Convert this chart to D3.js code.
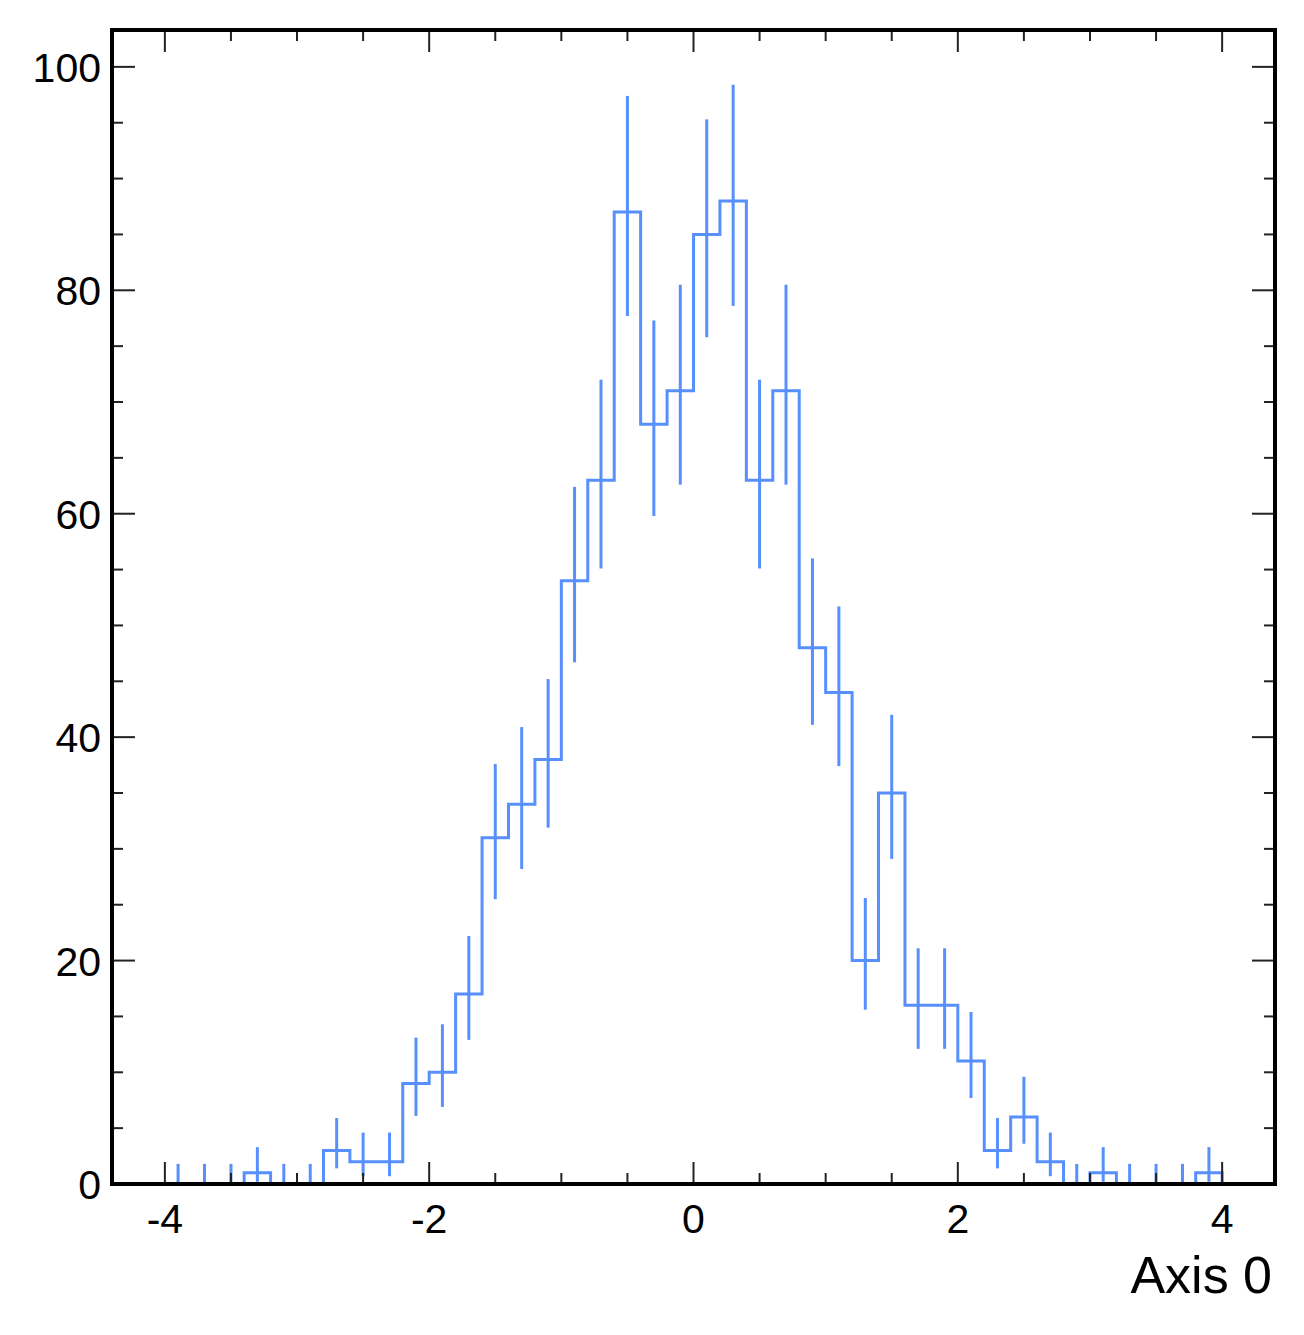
<!DOCTYPE html>
<html>
<head>
<meta charset="utf-8">
<script src="https://cdn.jsdelivr.net/npm/d3@7"></script>
<style>
  body { margin: 0; background: #fff; }
  text { font-family: "Liberation Sans", Arial, Helvetica, sans-serif; fill: #000; }
</style>
</head>
<body>
<div id="chart"></div>
<script>
// bin edges (40 bins of width 0.2)
const binEdges = [-4.0, -3.8, -3.6, -3.4, -3.2, -3.0, -2.8, -2.6, -2.4, -2.2,
  -2.0, -1.8, -1.6, -1.4, -1.2, -1.0, -0.8, -0.6, -0.4, -0.2,
  0.0, 0.2, 0.4, 0.6, 0.8, 1.0, 1.2, 1.4, 1.6, 1.8,
  2.0, 2.2, 2.4, 2.6, 2.8, 3.0, 3.2, 3.4, 3.6, 3.8, 4.0];

// entries per bin
const counts = [0, 0, 0, 1, 0, 0, 3, 2, 2, 9,
  10, 17, 31, 34, 38, 54, 63, 87, 68, 71,
  85, 88, 63, 71, 48, 44, 20, 35, 16, 16,
  11, 3, 6, 2, 0, 1, 0, 0, 0, 1];

// error bar ends (asymmetric)
const errLow = [0, 0, 0, 0.2, 0, 0, 1.4, 0.7, 0.7, 6.1,
  6.9, 12.9, 25.5, 28.2, 31.9, 46.7, 55.1, 77.7, 59.8, 62.6,
  75.8, 78.6, 55.1, 62.6, 41.1, 37.4, 15.6, 29.1, 12.1, 12.1,
  7.7, 1.4, 3.6, 0.7, 0, 0.2, 0, 0, 0, 0.2];
const errHigh = [1.8, 1.8, 1.8, 3.3, 1.8, 1.8, 5.9, 4.6, 4.6, 13.1,
  14.3, 22.2, 37.6, 40.9, 45.2, 62.4, 72.0, 97.4, 77.3, 80.5,
  95.3, 98.4, 72.0, 80.5, 56.0, 51.7, 25.6, 42.0, 21.1, 21.1,
  15.4, 5.9, 9.6, 4.6, 1.8, 3.3, 1.8, 1.8, 1.8, 3.3];

const xMajor = [-4, -2, 0, 2, 4];
const yMajor = [0, 20, 40, 60, 80, 100];

const width = 1304, height = 1335;
const margin = { top: 30, right: 29, bottom: 151, left: 112 };
const color = "#5790fc";

const svg = d3.select("#chart").append("svg")
  .attr("width", width)
  .attr("height", height);

const x = d3.scaleLinear().domain([-4.4, 4.4]).range([margin.left, width - margin.right]);
const y = d3.scaleLinear().domain([0, 103.3]).range([height - margin.bottom, margin.top]);

const bins = counts.map((c, i) => ({ lo: binEdges[i], hi: binEdges[i + 1], c: c, eL: errLow[i], eH: errHigh[i] }));

// histogram outline
const path = d3.path();
path.moveTo(x(binEdges[0]), y(0));
bins.forEach(b => {
  path.lineTo(x(b.lo), y(b.c));
  path.lineTo(x(b.hi), y(b.c));
});
path.lineTo(x(binEdges[binEdges.length - 1]), y(0));

svg.append("path")
  .attr("d", path.toString())
  .attr("fill", "none")
  .attr("stroke", color)
  .attr("stroke-width", 3);

// error bars
svg.append("g").selectAll("line")
  .data(bins)
  .join("line")
  .attr("x1", d => x((d.lo + d.hi) / 2))
  .attr("x2", d => x((d.lo + d.hi) / 2))
  .attr("y1", d => y(d.eL))
  .attr("y2", d => y(d.eH))
  .attr("stroke", color)
  .attr("stroke-width", 3);

// axes, ticks on all four sides
const x0 = x.range()[0], x1 = x.range()[1];
const y0 = y.range()[0], y1 = y.range()[1];
const tickG = svg.append("g").attr("stroke", "#222").attr("stroke-width", 2);

const xMinor = d3.range(-4, 4.01, 0.5).filter(v => !xMajor.includes(v));
const yMinor = d3.range(0, 101, 5).filter(v => !yMajor.includes(v));

function xTicks(vals, len) {
  vals.forEach(v => {
    tickG.append("line").attr("x1", x(v)).attr("x2", x(v)).attr("y1", y0).attr("y2", y0 - len);
    tickG.append("line").attr("x1", x(v)).attr("x2", x(v)).attr("y1", y1).attr("y2", y1 + len);
  });
}
function yTicks(vals, len) {
  vals.forEach(v => {
    tickG.append("line").attr("y1", y(v)).attr("y2", y(v)).attr("x1", x0).attr("x2", x0 + len);
    tickG.append("line").attr("y1", y(v)).attr("y2", y(v)).attr("x1", x1).attr("x2", x1 - len);
  });
}
xTicks(xMajor, 22);
xTicks(xMinor, 11);
yTicks(yMajor, 23);
yTicks(yMinor, 11);

svg.append("rect")
  .attr("x", x0).attr("y", y1)
  .attr("width", x1 - x0).attr("height", y0 - y1)
  .attr("fill", "none")
  .attr("stroke", "#000")
  .attr("stroke-width", 4);

// tick labels
svg.append("g").selectAll("text")
  .data(xMajor)
  .join("text")
  .attr("x", d => x(d))
  .attr("y", 1233)
  .attr("text-anchor", "middle")
  .style("font-size", "41px")
  .text(d => d);

svg.append("g").selectAll("text")
  .data(yMajor)
  .join("text")
  .attr("x", 101)
  .attr("y", d => y(d) + 15)
  .attr("text-anchor", "end")
  .style("font-size", "41px")
  .text(d => d);

svg.append("text")
  .attr("x", 1272)
  .attr("y", 1293)
  .attr("text-anchor", "end")
  .style("font-size", "52px")
  .text("Axis 0");
</script>
</body>
</html>
